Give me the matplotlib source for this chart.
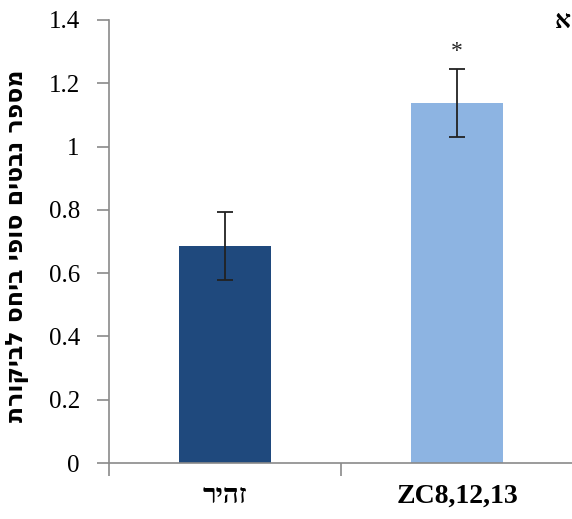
import matplotlib.pyplot as plt
import numpy as np

# data
categories = ['זהיר', 'ZC8,12,13']
values = [0.686, 1.137]
errors = [0.107, 0.107]
bar_colors = ['#1F497D', '#8DB4E2']
y_ticks = [0, 0.2, 0.4, 0.6, 0.8, 1, 1.2, 1.4]
y_tick_labels = ['0', '0.2', '0.4', '0.6', '0.8', '1', '1.2', '1.4']
ylabel_text = 'מספר נבטים סופי ביחס לביקורת'
star_height = 1.30

fonts = ['Liberation Serif', 'DejaVu Sans']


def rtl(s):
    # matplotlib has no bidi support, reverse hebrew strings by hand
    if any('\u0590' <= c <= '\u05FF' for c in s):
        return s[::-1]
    return s


fig = plt.figure(figsize=(5.72, 5.19), dpi=100)
ax = fig.add_axes([109 / 572, 56 / 519, 464 / 572, 443 / 519])

x = np.arange(len(categories))
ax.bar(x, values, width=0.4, color=bar_colors, zorder=2)
ax.errorbar(x, values, yerr=errors, fmt='none', ecolor='#222222',
            elinewidth=1.3, capsize=6, capthick=1.3, zorder=3)
ax.text(x[1], star_height, '*', ha='center', va='center',
        fontsize=17, family=fonts, color='#222222')

ax.set_xlim(-0.5, 1.5)
ax.set_ylim(0, 1.4)
ax.set_yticks(y_ticks)
ax.set_yticklabels(y_tick_labels, family=fonts, fontsize=18)

# category boundary ticks, labels centered under bars
ax.set_xticks([-0.5, 0.5, 1.5])
ax.set_xticklabels([])
ax.set_xticks(x, minor=True)
ax.set_xticklabels([rtl(c) for c in categories], minor=True,
                   family=fonts, fontsize=20, fontweight='bold')
ax.tick_params(axis='x', which='minor', length=0, pad=15)
ax.tick_params(axis='both', which='major', length=9, width=1.2,
               color='#8a8a8a', direction='out')
ax.tick_params(axis='y', which='major', pad=12)

for side in ['top', 'right']:
    ax.spines[side].set_visible(False)
for side in ['left', 'bottom']:
    ax.spines[side].set_color('#8a8a8a')
    ax.spines[side].set_linewidth(1.2)

ax.set_ylabel(rtl(ylabel_text), family=['DejaVu Sans'], fontsize=17,
              fontweight='bold')
ax.yaxis.set_label_coords((29 - 109) / 464, 0.49)

fig.text(571 / 572, 1 - 22 / 519, 'א', family=fonts, fontsize=18,
         fontweight='bold', ha='right', va='center')

fig.savefig('out.png', dpi=100)
